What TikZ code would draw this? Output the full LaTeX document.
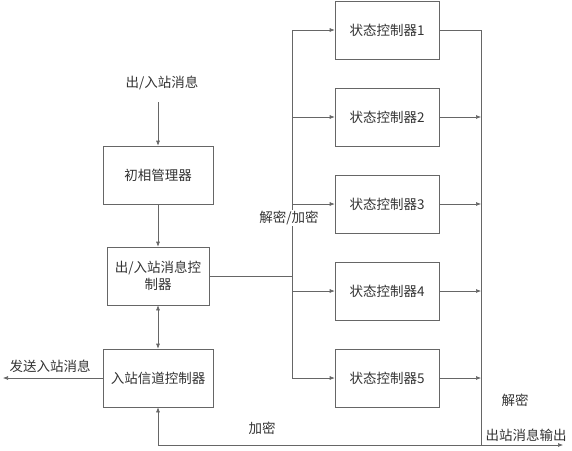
\documentclass[tikz,border=0pt]{standalone}
\usepackage{fontspec}
\setmainfont{Noto Sans CJK SC}
\usetikzlibrary{arrows.meta}
\begin{document}
\begin{tikzpicture}[x=1pt,y=-1pt,
  box/.style={draw=gray!80!black,line width=0.6pt,rectangle,minimum width=#1,minimum height=58pt,inner sep=0pt,font=\fontsize{13.5pt}{17pt}\selectfont,text=black!80,align=center},
  box/.default=110pt,
  lbl/.style={font=\fontsize{13.5pt}{17pt}\selectfont,text=black!80,inner sep=1pt},
  ln/.style={draw=gray!80!black,line width=0.6pt},
  arr/.style={ln,-{Latex[length=5pt,width=4pt]}},
  darr/.style={ln,{Latex[length=5pt,width=4pt]}-{Latex[length=5pt,width=4pt]}}]
\useasboundingbox (0,0) rectangle (572,450);
% left column
\node[box] (cm) at (158,175) {初相管理器};
\node[box=102pt] (ctrl) at (158,276) {出/入站消息控\\制器};
\node[box] (inb) at (158,378) {入站信道控制器};
% state controllers
\node[box=104pt] (s1) at (387,30) {状态控制器1};
\node[box=104pt] (s2) at (387,117) {状态控制器2};
\node[box=104pt] (s3) at (387,204) {状态控制器3};
\node[box=104pt] (s4) at (387,291) {状态控制器4};
\node[box=104pt] (s5) at (387,378) {状态控制器5};
% coordinates
\coordinate (topin) at (158,102);
\coordinate (left) at (3,378);
\coordinate (bl1) at (292,30);
\coordinate (bl5) at (292,378);
\coordinate (br1) at (481,30);
\coordinate (bb) at (481,445);
\coordinate (out) at (563,445);
% connectors
\draw[arr] (topin) -- (cm.north);
\draw[arr] (cm.south) -- (ctrl.north);
\draw[darr] (ctrl.south) -- (inb.north);
\draw[arr] (inb.west) -- (left);
\draw[ln] (ctrl.east) -- (ctrl.east -| bl1);
\draw[ln] (bl1) -- (bl5);
\foreach \s in {s1,s2,s3,s4,s5}{\draw[arr] (\s.west -| bl1) -- (\s.west);}
\draw[ln] (s1.east) -- (br1);
\foreach \s in {s2,s3,s4,s5}{\draw[arr] (\s.east) -- (\s.east -| br1);}
\draw[ln] (br1) -- (bb);
\draw[arr] (bb) -- (out);
\draw[arr] (bb) -| (inb.south);
% labels
\node[lbl] (l1) at (162,83) {出/入站消息};
\node[lbl] (l2) at (50,366) {发送入站消息};
\node[lbl] (l3) at (262,428) {加密};
\node[lbl,fill=white] (l4) at (289,218) {解密/加密};
\node[lbl] (l5) at (515,400) {解密};
\node[lbl] (l6) at (526,435) {出站消息输出};
\end{tikzpicture}
\end{document}
